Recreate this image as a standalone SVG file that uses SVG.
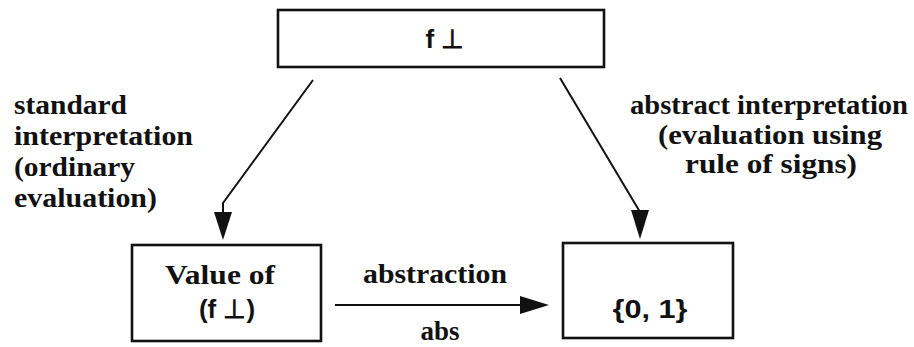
<svg xmlns="http://www.w3.org/2000/svg" width="914" height="347" viewBox="0 0 914 347">
<style>
.box{fill:#fff;stroke:#111;stroke-width:2.6}
.ln{fill:none;stroke:#111;stroke-width:2}
.hd{fill:#111;stroke:none}
.lbl{font-size:27px;font-weight:bold;fill:#111}
.sym{font-weight:bold;font-size:26px;fill:#111}
</style>
<rect width="914" height="347" fill="#fff"/>
<g id="connectors">
<polyline class="ln" points="313,80 223,203 223,215"/>
<polygon class="hd" points="214,212 232,212 223,240"/>
<line class="ln" x1="560" y1="78" x2="640" y2="212"/>
<polygon class="hd" points="631,210 649,210 640,239"/>
<line class="ln" x1="335" y1="305" x2="525" y2="305"/>
<polygon class="hd" points="520,296 549,305 520,314"/>
</g>
<g id="labels" font-family="'Liberation Serif', 'Times New Roman', serif">
<text class="lbl" font-family="'Liberation Serif', serif" x="435" y="283" text-anchor="middle" textLength="144" lengthAdjust="spacingAndGlyphs">abstraction</text>
<text class="lbl" font-family="'Liberation Serif', serif" x="440" y="340" text-anchor="middle">abs</text>
<text class="lbl" font-family="'Liberation Serif', serif" x="14" y="114" textLength="113" lengthAdjust="spacingAndGlyphs">standard</text>
<text class="lbl" font-family="'Liberation Serif', serif" x="14" y="145" textLength="179" lengthAdjust="spacingAndGlyphs">interpretation</text>
<text class="lbl" font-family="'Liberation Serif', serif" x="14" y="176" textLength="121" lengthAdjust="spacingAndGlyphs">(ordinary</text>
<text class="lbl" font-family="'Liberation Serif', serif" x="14" y="207" textLength="143" lengthAdjust="spacingAndGlyphs">evaluation)</text>
<text class="lbl" font-family="'Liberation Serif', serif" x="769" y="114" text-anchor="middle" textLength="278" lengthAdjust="spacingAndGlyphs">abstract interpretation</text>
<text class="lbl" font-family="'Liberation Serif', serif" x="770" y="144" text-anchor="middle" textLength="224" lengthAdjust="spacingAndGlyphs">(evaluation using</text>
<text class="lbl" font-family="'Liberation Serif', serif" x="771" y="173" text-anchor="middle" textLength="172" lengthAdjust="spacingAndGlyphs">rule of signs)</text>
</g>
<g id="node-top">
<rect class="box" x="278" y="10" width="326" height="57"/>
<text class="sym" font-family="'Liberation Sans', Arial, sans-serif" x="445" y="48" text-anchor="middle">f ⊥</text>
</g>
<g id="node-value">
<rect class="box" x="132" y="245" width="189" height="96"/>
<text class="lbl" font-family="'Liberation Serif', serif" x="220" y="284" text-anchor="middle" textLength="110" lengthAdjust="spacingAndGlyphs">Value of</text>
<text class="sym" font-family="'Liberation Sans', Arial, sans-serif" x="227" y="318" text-anchor="middle">(f ⊥)</text>
</g>
<g id="node-abstract">
<rect class="box" x="563" y="243" width="170" height="95"/>
<text class="sym" font-family="'Liberation Sans', Arial, sans-serif" x="650" y="318" text-anchor="middle" textLength="75" lengthAdjust="spacingAndGlyphs">{0, 1}</text>
</g>
</svg>
